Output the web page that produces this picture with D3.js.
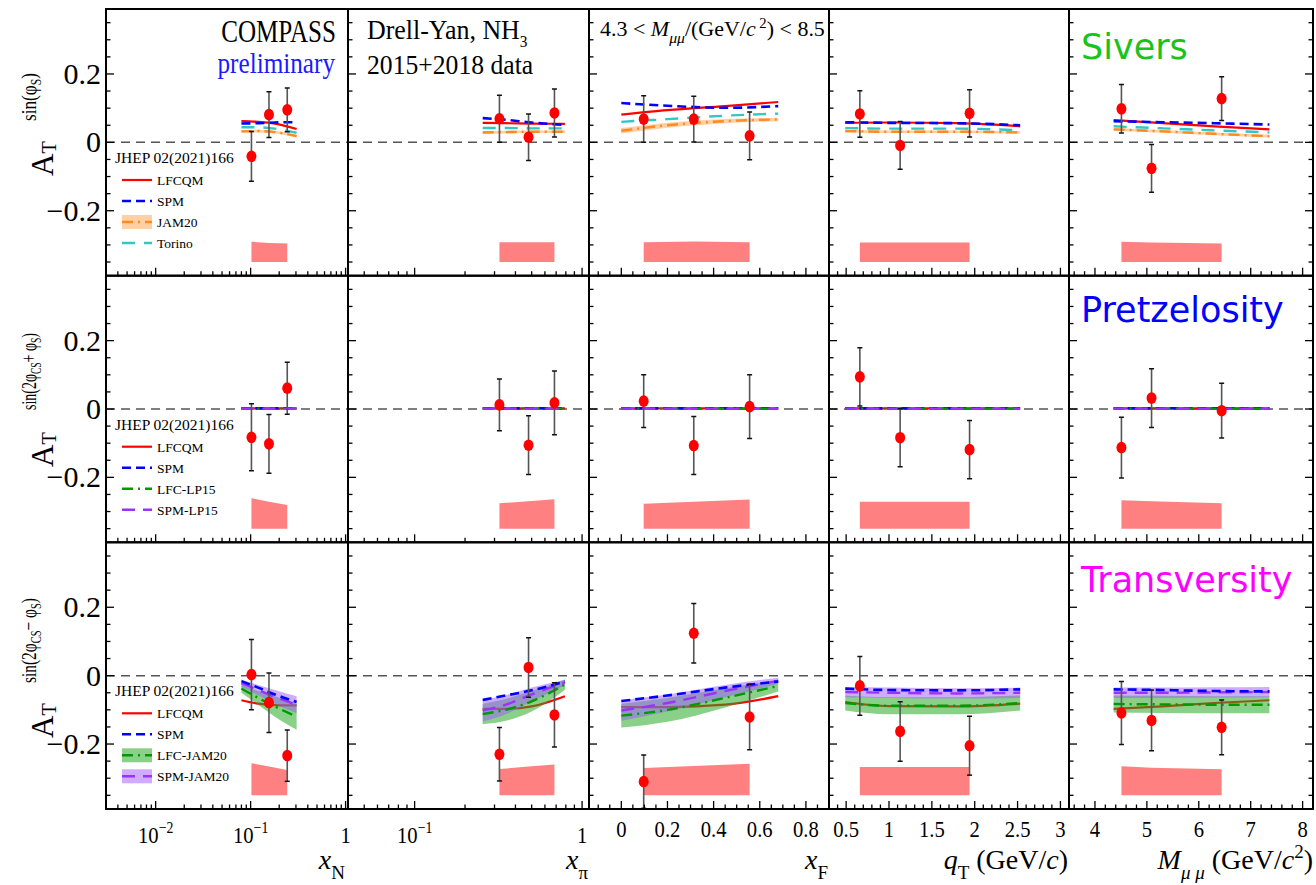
<!DOCTYPE html>
<html><head><meta charset="utf-8">
<script src="https://cdn.jsdelivr.net/npm/d3@7"></script>
<style>body{margin:0;background:#fff;} svg{display:block;}</style>
</head><body>
<svg id="chart" width="1316" height="885"></svg>
<script>
// ================= DATA =================
const rowNames = ["Sivers", "Pretzelosity", "Transversity"];
const rowColors = ["#19c419", "#0000ff", "#ff00ff"];

// kinematic bins (x positions of the points)
const xN = [0.102, 0.156, 0.243];
const xPi = [0.321, 0.479, 0.684];
const xF = [0.097, 0.314, 0.556];
const qT = [0.66, 1.13, 1.94];
const mMuMu = [4.51, 5.09, 6.44];

// measured asymmetries [column][bin]
const sivVal = [[-0.041, 0.081, 0.095], [0.069, 0.015, 0.086], [0.068, 0.068, 0.019], [0.083, -0.009, 0.085], [0.098, -0.076, 0.128]];
const sivErr = [[0.073, 0.067, 0.064], [0.069, 0.068, 0.070], [0.068, 0.067, 0.070], [0.068, 0.070, 0.069], [0.071, 0.070, 0.064]];
const sivSys = [[0.059, 0.056, 0.054], [0.058, 0.058, 0.058], [0.058, 0.060, 0.058], [0.057, 0.057, 0.057], [0.059, 0.057, 0.054]];

const pretVal = [[-0.083, -0.102, 0.061], [0.012, -0.106, 0.018], [0.023, -0.107, 0.007], [0.094, -0.084, -0.119], [-0.113, 0.032, -0.005]];
const pretErr = [[0.098, 0.086, 0.076], [0.076, 0.086, 0.093], [0.077, 0.085, 0.093], [0.085, 0.085, 0.085], [0.089, 0.086, 0.080]];
const pretSys = [[0.089, 0.079, 0.069], [0.074, 0.080, 0.086], [0.073, 0.079, 0.085], [0.079, 0.079, 0.079], [0.083, 0.080, 0.074]];

const transVal = [[0.003, -0.079, -0.234], [-0.230, 0.024, -0.115], [-0.310, 0.124, -0.121], [-0.030, -0.163, -0.205], [-0.109, -0.131, -0.151]];
const transErr = [[0.103, 0.087, 0.075], [0.078, 0.087, 0.094], [0.078, 0.087, 0.096], [0.086, 0.087, 0.086], [0.092, 0.089, 0.080]];
const transSys = [[0.094, 0.084, 0.074], [0.077, 0.084, 0.090], [0.080, 0.086, 0.092], [0.083, 0.083, 0.083], [0.085, 0.081, 0.076]];
const sysBase = -0.35;

// theory curves: x nodes per column
const thX = [[0.08, 0.12, 0.18, 0.305], [0.255, 0.35, 0.5, 0.79], [0.0, 0.2, 0.45, 0.68], [0.49, 1.0, 1.8, 2.53], [4.36, 5.3, 6.3, 7.36]];

// Sivers predictions
const sivLFCQM = [[0.062, 0.060, 0.055, 0.039], [0.057, 0.056, 0.055, 0.054], [0.081, 0.094, 0.106, 0.118], [0.057, 0.058, 0.056, 0.047], [0.065, 0.056, 0.047, 0.038]];
const sivSPM = [[0.055, 0.056, 0.058, 0.059], [0.071, 0.066, 0.058, 0.051], [0.115, 0.107, 0.101, 0.106], [0.059, 0.057, 0.056, 0.050], [0.062, 0.059, 0.056, 0.052]];
const sivJAM20 = [[0.032, 0.033, 0.030, 0.018], [0.029, 0.030, 0.031, 0.031], [0.034, 0.050, 0.062, 0.067], [0.033, 0.031, 0.031, 0.029], [0.038, 0.032, 0.025, 0.018]];
const sivJAM20Unc = [[0.004, 0.004, 0.004, 0.004], [0.004, 0.004, 0.004, 0.004], [0.008, 0.007, 0.006, 0.005], [0.004, 0.004, 0.004, 0.004], [0.004, 0.004, 0.004, 0.004]];
const sivTorino = [[0.044, 0.044, 0.040, 0.028], [0.042, 0.042, 0.041, 0.041], [0.060, 0.068, 0.078, 0.084], [0.042, 0.040, 0.040, 0.035], [0.047, 0.041, 0.035, 0.029]];

// Pretzelosity predictions
const pretLFCQM = [[0.002, 0.002, 0.002, 0.002], [0.002, 0.002, 0.002, 0.002], [0.002, 0.002, 0.002, 0.002], [0.002, 0.002, 0.002, 0.002], [0.002, 0.002, 0.002, 0.002]];
const pretSPM = [[0.002, 0.002, 0.002, 0.002], [0.002, 0.002, 0.002, 0.002], [0.002, 0.002, 0.002, 0.002], [0.002, 0.002, 0.002, 0.002], [0.002, 0.002, 0.002, 0.002]];
const pretLFCLP15 = [[0.001, 0.001, 0.001, 0.001], [0.001, 0.001, 0.001, 0.001], [0.001, 0.001, 0.001, 0.001], [0.001, 0.001, 0.001, 0.001], [0.001, 0.001, 0.001, 0.001]];
const pretSPMLP15 = [[0.001, 0.001, 0.001, 0.001], [0.001, 0.001, 0.001, 0.001], [0.001, 0.001, 0.001, 0.001], [0.001, 0.001, 0.001, 0.001], [0.001, 0.001, 0.001, 0.001]];

// Transversity predictions
const transLFCQM = [[-0.072, -0.082, -0.086, -0.087], [-0.097, -0.097, -0.090, -0.060], [-0.092, -0.092, -0.085, -0.060], [-0.077, -0.089, -0.090, -0.082], [-0.097, -0.090, -0.080, -0.072]];
const transSPM = [[-0.016, -0.035, -0.055, -0.077], [-0.071, -0.058, -0.043, -0.017], [-0.074, -0.058, -0.035, -0.017], [-0.038, -0.042, -0.043, -0.040], [-0.040, -0.042, -0.045, -0.046]];
const transLFCJAM20 = [[-0.038, -0.065, -0.090, -0.120], [-0.112, -0.100, -0.075, -0.026], [-0.117, -0.100, -0.065, -0.030], [-0.080, -0.088, -0.088, -0.080], [-0.083, -0.084, -0.085, -0.085]];
const transLFCJAM20Unc = [[0.012, 0.020, 0.030, 0.038], [0.030, 0.032, 0.030, 0.015], [0.035, 0.035, 0.028, 0.016], [0.022, 0.025, 0.025, 0.022], [0.025, 0.025, 0.025, 0.025]];
const transSPMJAM20 = [[-0.022, -0.042, -0.062, -0.085], [-0.102, -0.085, -0.055, -0.020], [-0.102, -0.080, -0.045, -0.015], [-0.048, -0.050, -0.052, -0.050], [-0.050, -0.050, -0.049, -0.048]];
const transSPMJAM20Unc = [[0.010, 0.015, 0.020, 0.025], [0.032, 0.028, 0.020, 0.008], [0.030, 0.025, 0.018, 0.009], [0.015, 0.015, 0.015, 0.015], [0.015, 0.015, 0.015, 0.015]];

// axis tick labels
const yTickLabels = [0.2, 0, -0.2];
const xTickLabels = [[0.01, 0.1, 1], [0.1, 1], [0, 0.2, 0.4, 0.6, 0.8], [0.5, 1, 1.5, 2, 2.5, 3], [4, 5, 6, 7, 8]];

// ================= LAYOUT =================
const colEdges = [106, 348, 589, 829, 1069, 1313];
const rowEdges = [9, 275.7, 542.3, 809];
const yDomain = [-0.39, 0.39];
const xDomains = [[0.003, 1.06], [0.04, 1.1], [-0.14, 0.9], [0.3, 3.1], [3.5, 8.2]];
const xIsLog = [true, true, false, false, false];
const minorStep = [null, null, 0.05, 0.1, 0.2];
const majorStep = [null, null, 0.2, 0.5, 1];
const serif = "'Liberation Serif','DejaVu Serif',serif";
const sans = "'DejaVu Sans',Verdana,sans-serif";

const svg = d3.select("#chart");
const xScales = xDomains.map((d, i) => (xIsLog[i] ? d3.scaleLog() : d3.scaleLinear()).domain(d).range([colEdges[i], colEdges[i + 1]]));
const yScales = [0, 1, 2].map(r => d3.scaleLinear().domain(yDomain).range([rowEdges[r + 1], rowEdges[r]]));
const binsX = [xN, xPi, xF, qT, mMuMu];

const rowsVal = [sivVal, pretVal, transVal];
const rowsErr = [sivErr, pretErr, transErr];
const rowsSys = [sivSys, pretSys, transSys];

const styles = {
  red: {stroke: "#ff0000", width: 2.2, dash: null},
  blue: {stroke: "#0000ff", width: 2.6, dash: "9,5"},
  orange: {stroke: "#ff8a1f", width: 2.4, dash: "11,5,2,5"},
  cyan: {stroke: "#33c6c6", width: 2.4, dash: "13,9"},
  green: {stroke: "#009a00", width: 2.4, dash: "11,5,2,5"},
  purple: {stroke: "#9a33ff", width: 2.4, dash: "13,8"}
};
const bandFill = {orange: "rgba(255,150,50,0.45)", green: "rgba(40,170,40,0.55)", purple: "rgba(160,90,255,0.5)"};

// models per row, in drawing order
const rowModels = [
  [
    {name: "JAM20", vals: sivJAM20, unc: sivJAM20Unc, style: "orange", band: "orange"},
    {name: "Torino", vals: sivTorino, style: "cyan"},
    {name: "LFCQM", vals: sivLFCQM, style: "red"},
    {name: "SPM", vals: sivSPM, style: "blue"}
  ],
  [
    {name: "LFCQM", vals: pretLFCQM, style: "red"},
    {name: "SPM", vals: pretSPM, style: "blue"},
    {name: "LFC-LP15", vals: pretLFCLP15, style: "green"},
    {name: "SPM-LP15", vals: pretSPMLP15, style: "purple"}
  ],
  [
    {name: "LFCQM", vals: transLFCQM, style: "red"},
    {name: "LFC-JAM20", vals: transLFCJAM20, unc: transLFCJAM20Unc, style: "green", band: "green"},
    {name: "SPM-JAM20", vals: transSPMJAM20, unc: transSPMJAM20Unc, style: "purple", band: "purple"},
    {name: "SPM", vals: transSPM, style: "blue"}
  ]
];
const legendOrder = [
  [{n: "LFCQM", s: "red"}, {n: "SPM", s: "blue"}, {n: "JAM20", s: "orange", b: "orange"}, {n: "Torino", s: "cyan"}],
  [{n: "LFCQM", s: "red"}, {n: "SPM", s: "blue"}, {n: "LFC-LP15", s: "green"}, {n: "SPM-LP15", s: "purple"}],
  [{n: "LFCQM", s: "red"}, {n: "SPM", s: "blue"}, {n: "LFC-JAM20", s: "green", b: "green"}, {n: "SPM-JAM20", s: "purple", b: "purple"}]
];

function applyStyle(sel, st) {
  sel.attr("fill", "none").attr("stroke", styles[st].stroke).attr("stroke-width", styles[st].width);
  if (styles[st].dash) sel.attr("stroke-dasharray", styles[st].dash);
  return sel;
}
// fit a text element to a target advance length by scaling along the text direction
function fitText(sel, baseTransform, target) {
  const len = sel.node().getComputedTextLength();
  const s = len > 0 ? target / len : 1;
  sel.attr("transform", `${baseTransform} scale(${s},1)`);
}

const defs = svg.append("defs");

for (let r = 0; r < 3; r++) {
  const y = yScales[r];
  for (let c = 0; c < 5; c++) {
    const x = xScales[c];
    const id = `clip-${r}-${c}`;
    defs.append("clipPath").attr("id", id).append("rect")
      .attr("x", colEdges[c]).attr("y", rowEdges[r])
      .attr("width", colEdges[c + 1] - colEdges[c]).attr("height", rowEdges[r + 1] - rowEdges[r]);
    const g = svg.append("g").attr("clip-path", `url(#${id})`);

    // systematic band
    const sysData = binsX[c].map((bx, i) => ({x: bx, s: rowsSys[r][c][i]}));
    g.append("path").datum(sysData)
      .attr("d", d3.area().x(d => x(d.x)).y0(y(sysBase)).y1(d => y(sysBase + d.s)))
      .attr("fill", "#ff8080");

    // zero line
    g.append("line").attr("x1", colEdges[c]).attr("x2", colEdges[c + 1])
      .attr("y1", y(0)).attr("y2", y(0))
      .attr("stroke", "#555").attr("stroke-width", 1.5).attr("stroke-dasharray", "9,6");

    // theory
    const models = rowModels[r];
    const drawLine = (m) => {
      const pts = thX[c].map((tx, i) => ({x: tx, v: m.vals[c][i]}));
      applyStyle(g.append("path").datum(pts)
        .attr("d", d3.line().x(d => x(d.x)).y(d => y(d.v)).curve(d3.curveMonotoneX)), m.style);
    };
    const drawBand = (m) => {
      const pts = thX[c].map((tx, i) => ({x: tx, v: m.vals[c][i], u: m.unc[c][i]}));
      g.append("path").datum(pts)
        .attr("d", d3.area().x(d => x(d.x)).y0(d => y(d.v - d.u)).y1(d => y(d.v + d.u)).curve(d3.curveMonotoneX))
        .attr("fill", bandFill[m.band]);
    };
    if (r === 2) {
      drawLine(models[0]);
      drawBand(models[1]); drawBand(models[2]);
      drawLine(models[1]); drawLine(models[2]); drawLine(models[3]);
    } else {
      models.forEach(m => { if (m.band) drawBand(m); });
      models.forEach(m => drawLine(m));
    }

    // data points
    binsX[c].forEach((bx, i) => {
      const v = rowsVal[r][c][i], e = rowsErr[r][c][i];
      const px = x(bx);
      g.append("line").attr("x1", px).attr("x2", px).attr("y1", y(v + e)).attr("y2", y(v - e))
        .attr("stroke", "#555").attr("stroke-width", 1.6);
      [v + e, v - e].forEach(ev => g.append("line").attr("x1", px - 2.5).attr("x2", px + 2.5)
        .attr("y1", y(ev)).attr("y2", y(ev)).attr("stroke", "#111").attr("stroke-width", 1.5));
      g.append("ellipse").attr("cx", px).attr("cy", y(v)).attr("rx", 5).attr("ry", 5.8).attr("fill", "#ff0000");
    });

    // ticks
    const tg = svg.append("g").attr("stroke", "#000").attr("stroke-width", 1.3);
    for (let k = -7; k <= 7; k++) {
      const v = k * 0.05;
      const major = (k % 4 === 0);
      const len = major ? 8 : 4.5;
      const py = y(v);
      tg.append("line").attr("x1", colEdges[c]).attr("x2", colEdges[c] + len).attr("y1", py).attr("y2", py);
      if (c === 4) tg.append("line").attr("x1", colEdges[c + 1]).attr("x2", colEdges[c + 1] - len).attr("y1", py).attr("y2", py);
    }
    let xt = [];
    if (xIsLog[c]) {
      xt = x.ticks().map(v => ({v, major: Math.abs(Math.log10(v) - Math.round(Math.log10(v))) < 1e-9}));
    } else {
      const [lo, hi] = xDomains[c];
      const n0 = Math.ceil(lo / minorStep[c] - 1e-9), n1 = Math.floor(hi / minorStep[c] + 1e-9);
      for (let n = n0; n <= n1; n++) {
        const v = n * minorStep[c];
        const q = v / majorStep[c];
        xt.push({v, major: Math.abs(q - Math.round(q)) < 1e-6});
      }
    }
    xt.forEach(t => {
      const px = x(t.v);
      if (px < colEdges[c] + 1 || px > colEdges[c + 1] - 1) return;
      const len = t.major ? 8 : 4.5;
      tg.append("line").attr("x1", px).attr("x2", px).attr("y1", rowEdges[r + 1]).attr("y2", rowEdges[r + 1] - len);
    });

    // frame
    svg.append("rect").attr("x", colEdges[c]).attr("y", rowEdges[r])
      .attr("width", colEdges[c + 1] - colEdges[c]).attr("height", rowEdges[r + 1] - rowEdges[r])
      .attr("fill", "none").attr("stroke", "#000").attr("stroke-width", 2);
  }

  // y tick labels
  yTickLabels.forEach(v => {
    svg.append("text").attr("x", 101).attr("y", y(v) + 10).attr("text-anchor", "end")
      .attr("font-family", serif).attr("font-size", 30).text(v < 0 ? "\u2212" + Math.abs(v) : String(v));
  });

  // row title
  svg.append("text").attr("x", 1081).attr("y", rowEdges[r] + [49.5, 46, 49.5][r])
    .attr("font-family", sans).attr("font-size", 35).attr("fill", rowColors[r]).text(rowNames[r]);

  // legend
  const lg = svg.append("g");
  const top = rowEdges[r];
  lg.append("text").attr("x", 115).attr("y", top + 154).attr("font-family", serif).attr("font-size", 15.5).text("JHEP 02(2021)166");
  legendOrder[r].forEach((e, i) => {
    const cy = top + [171, 192, 213, 234][i];
    if (e.b) lg.append("rect").attr("x", 122).attr("y", cy - 7).attr("width", 30).attr("height", 14).attr("fill", bandFill[e.b]);
    applyStyle(lg.append("line").attr("x1", 122).attr("x2", 152).attr("y1", cy).attr("y2", cy), e.s);
    lg.append("text").attr("x", 157).attr("y", cy + 5).attr("font-family", serif).attr("font-size", 13.5).text(e.n);
  });
}

// y axis titles: A_T part and superscript part
const yTitleStart = [176, 467, 738];
const ySupStart = [121, 410, 683];
const ySupLen = [48, 77, 85];
const yTitleSup = [
  [["sin(\u03c6", 0], ["S", 1], [")", 0]],
  [["sin(2\u03c6", 0], ["CS", 1], ["+ \u03c6", 0], ["S", 1], [")", 0]],
  [["sin(2\u03c6", 0], ["CS", 1], ["\u2212 \u03c6", 0], ["S", 1], [")", 0]]
];
yTitleSup.forEach((parts, r) => {
  const t = svg.append("text").attr("transform", `translate(53,${yTitleStart[r]}) rotate(-90)`)
    .attr("font-family", serif);
  t.append("tspan").attr("font-size", 31).text("A");
  t.append("tspan").attr("font-size", 20).attr("dy", 3).text("T");
  const s = svg.append("text").attr("font-family", serif).attr("font-size", 22);
  let cur = 0;
  parts.forEach(([str, sub]) => {
    const target = sub ? 5 : 0;
    s.append("tspan").attr("font-size", sub ? 15 : 22).attr("dy", target - cur).text(str);
    cur = target;
  });
  fitText(s, `translate(35.5,${ySupStart[r]}) rotate(-90)`, ySupLen[r]);
});

// x tick labels (bottom row)
xTickLabels.forEach((labs, c) => {
  labs.forEach(v => {
    const px = xScales[c](v);
    const tx = svg.append("text").attr("transform", `translate(${px},${xIsLog[c] ? 843 : 837}) scale(0.86,1)`)
      .attr("text-anchor", "middle").attr("font-family", serif).attr("font-size", 24);
    if (xIsLog[c] && v < 1) {
      tx.append("tspan").text("10");
      tx.append("tspan").attr("font-size", 16).attr("dy", -10).text("\u2212" + Math.round(-Math.log10(v)));
    } else {
      tx.text(String(v));
    }
  });
});

// x axis titles
function xTitle(xEnd, parts) {
  const t = svg.append("text").attr("x", xEnd).attr("y", 869).attr("text-anchor", "end")
    .attr("font-family", serif).attr("font-size", 28);
  let cur = 0;
  parts.forEach(p => {
    const target = p.sub ? 10 : (p.sup ? -11 : 0);
    const ts = t.append("tspan").text(p.t).attr("dy", target - cur).attr("font-size", p.sub || p.sup ? 19 : 28);
    if (p.it) ts.attr("font-style", "italic");
    cur = target;
  });
}
xTitle(345, [{t: "x", it: 1}, {t: "N", sub: 1}]);
xTitle(588, [{t: "x", it: 1}, {t: "\u03c0", sub: 1}]);
xTitle(828, [{t: "x", it: 1}, {t: "F", sub: 1}]);
xTitle(1068, [{t: "q", it: 1}, {t: "T", sub: 1}, {t: " (GeV/"}, {t: "c", it: 1}, {t: ")"}]);
xTitle(1313, [{t: "M", it: 1}, {t: "\u03bc \u03bc", sub: 1, it: 1}, {t: " (GeV/"}, {t: "c", it: 1}, {t: "2", sup: 1}, {t: ")"}]);

// annotations
svg.append("text").attr("transform", "translate(336,41.5) scale(0.81,1)").attr("text-anchor", "end")
  .attr("font-family", serif).attr("font-size", 31).text("COMPASS");
svg.append("text").attr("transform", "translate(335,73) scale(0.84,1)").attr("text-anchor", "end")
  .attr("font-family", serif).attr("font-size", 30).attr("fill", "#1a1aff").text("preliminary");
const dy1 = svg.append("text").attr("transform", "translate(367,39.3) scale(0.96,1)")
  .attr("font-family", serif).attr("font-size", 27);
dy1.append("tspan").text("Drell-Yan, NH");
dy1.append("tspan").attr("font-size", 16).attr("dy", 8).text("3");
svg.append("text").attr("transform", "translate(367,73.5) scale(0.95,1)")
  .attr("font-family", serif).attr("font-size", 27).text("2015+2018 data");
const mt = svg.append("text").attr("font-family", serif).attr("font-size", 21);
mt.append("tspan").text("4.3 < ");
mt.append("tspan").attr("font-style", "italic").text("M");
mt.append("tspan").attr("font-style", "italic").attr("font-size", 15).attr("dy", 7).text("\u03bc\u03bc");
mt.append("tspan").attr("dy", -7).text("/(GeV/");
mt.append("tspan").attr("font-style", "italic").text("c");
mt.append("tspan").attr("font-size", 14).attr("dy", -8).text(" 2");
mt.append("tspan").attr("dy", 8).text(") < 8.5");
fitText(mt, "translate(600,36)", 225);
</script>
</body></html>
